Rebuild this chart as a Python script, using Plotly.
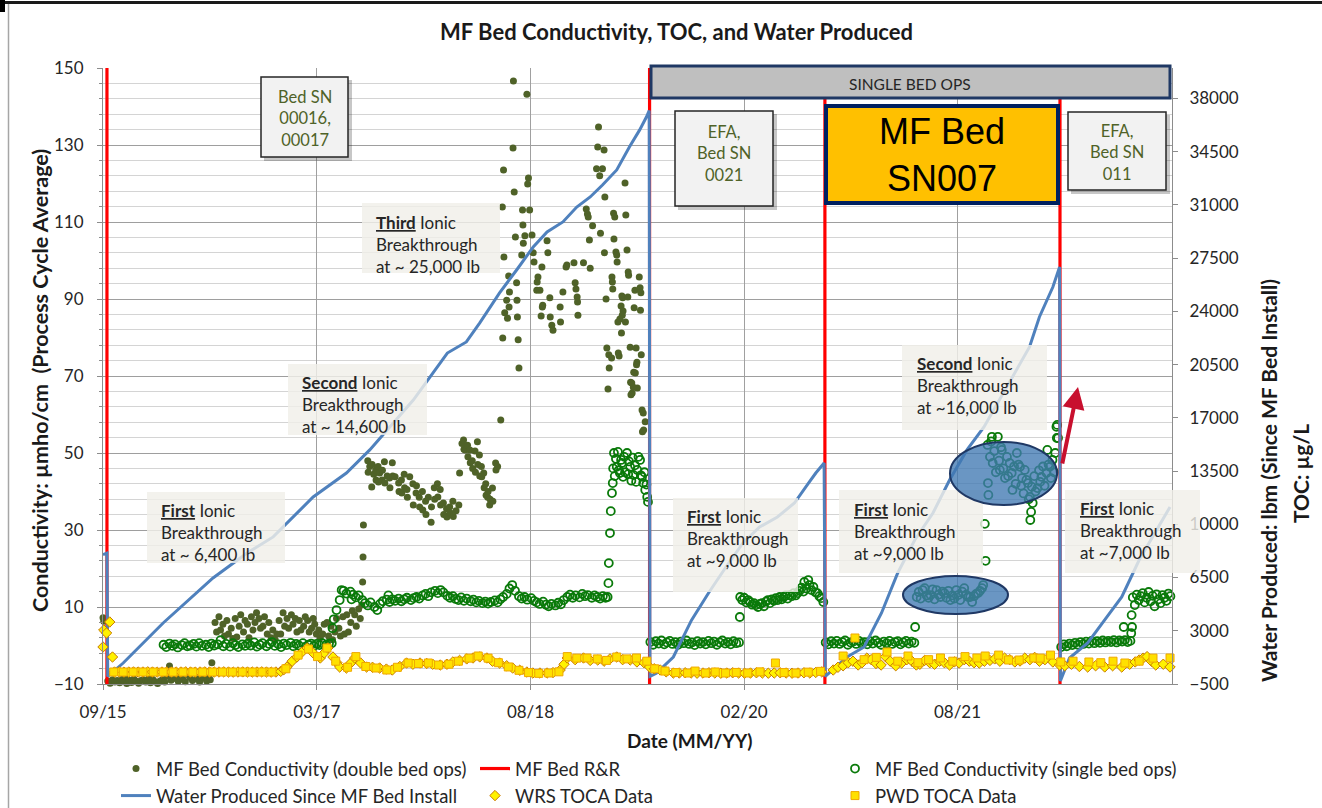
import plotly.graph_objects as go

FONT = "Lato"

# ---------------- axes / ticks ----------------
x_range = ["2015-09-15", "2023-02-06"]
x_tick_dates = ["2015-09-15", "2017-03-08", "2018-08-30", "2020-02-21", "2021-08-13"]
x_tick_labels = ["09/15", "03/17", "08/18", "02/20", "08/21"]
left_range = [-10, 150]
left_ticks = [-10, 10, 30, 50, 70, 90, 110, 130, 150]
right_range = [-500, 40000]
right_ticks = [-500, 3000, 6500, 10000, 13500, 17000, 20500, 24000, 27500, 31000, 34500, 38000]

# ---------------- MF bed R&R dates ----------------
rr_dates = ["2015-09-25", "2019-06-27", "2020-09-12", "2022-04-29"]

# ---------------- water produced (lbm, right axis) ----------------
water = [
    ("2015-09-15", 8000), ("2015-09-25", 8100), ("2015-09-27", 0), ("2015-11-05", 880),
    ("2016-02-14", 3510), ("2016-06-19", 6470), ("2016-09-13", 8110), ("2016-11-18", 9170),
    ("2017-02-27", 11800), ("2017-05-22", 13370), ("2017-07-20", 14890), ("2017-11-07", 18170),
    ("2018-02-01", 21260), ("2018-03-21", 21990), ("2018-04-24", 23240), ("2018-06-13", 25210),
    ("2018-07-26", 26720), ("2018-09-06", 28230), ("2018-10-11", 29220), ("2018-11-20", 29880),
    ("2018-12-25", 30860), ("2019-01-28", 31520), ("2019-02-28", 32310), ("2019-04-05", 33300),
    ("2019-05-07", 34810), ("2019-06-02", 35930), ("2019-06-19", 36780), ("2019-06-26", 37200),
    ("2019-06-28", 0), ("2019-07-14", 200), ("2019-08-26", 1275), ("2019-10-11", 3700),
    ("2019-11-23", 5480), ("2020-01-06", 7190), ("2020-02-18", 8770), ("2020-03-31", 9820),
    ("2020-05-15", 10480), ("2020-06-27", 11400), ("2020-08-02", 12720), ("2020-08-20", 13370),
    ("2020-09-10", 14030),
    ("2020-09-13", 0), ("2020-11-07", 1275), ("2020-12-20", 1930), ("2021-02-02", 4170),
    ("2021-03-15", 6800), ("2021-04-27", 8970), ("2021-06-12", 10740), ("2021-07-24", 12910),
    ("2021-09-06", 14890), ("2021-10-19", 16400), ("2021-12-04", 18500), ("2022-02-11", 21660),
    ("2022-03-08", 23630), ("2022-04-11", 25600), ("2022-04-28", 26920),
    ("2022-04-30", -300), ("2022-05-23", 1210), ("2022-07-08", 2200), ("2022-08-20", 3710),
    ("2022-10-02", 5220), ("2022-11-15", 7650), ("2022-12-29", 9630), ("2023-02-01", 11140),
]

# ---------------- conductivity, double bed ops (left axis) ----------------
cond_double = [
    ("2015-09-15", 7.2), ("2015-09-17", 6.3),
    ("2015-09-27", -9.2), ("2015-10-03", -9.8), ("2015-10-09", -8.9), ("2015-10-15", -9.5),
    ("2015-10-21", -9.1), ("2015-10-27", -9.7), ("2015-11-02", -8.8), ("2015-11-08", -9.4),
    ("2015-11-10", -7.8), ("2015-11-14", -9.9), ("2015-11-20", -9.0), ("2015-11-26", -9.6),
    ("2015-12-02", -8.7), ("2015-12-08", -9.3), ("2015-12-14", -9.8), ("2015-12-20", -9.1),
    ("2015-12-26", -8.9), ("2016-01-01", -9.5), ("2016-01-07", -9.0), ("2016-01-10", -8.2),
    ("2016-01-13", -9.7), ("2016-01-19", -8.8), ("2016-01-25", -9.4), ("2016-01-31", -9.9),
    ("2016-02-06", -9.2), ("2016-02-12", -8.9), ("2016-02-18", -9.5),
    ("2016-02-24", -8.0), ("2016-03-01", -5.3), ("2016-03-05", -9.0), ("2016-03-11", -7.2),
    ("2016-03-17", -8.6), ("2016-03-23", -9.3), ("2016-03-29", -7.8), ("2016-04-04", -8.8),
    ("2016-04-10", -9.4), ("2016-04-16", -7.5), ("2016-04-22", -8.3), ("2016-04-28", -9.1),
    ("2016-05-04", -7.0), ("2016-05-10", -8.7), ("2016-05-16", -9.5), ("2016-05-22", -7.9),
    ("2016-05-28", -8.5), ("2016-06-03", -9.2), ("2016-06-09", -7.6), ("2016-06-12", -8.9),
    ("2016-06-16", -4.5),
    ("2016-06-24", 6.0), ("2016-06-28", 3.5), ("2016-07-04", 7.5), ("2016-07-08", 4.0),
    ("2016-07-14", 5.5), ("2016-07-18", 2.5), ("2016-07-24", 6.5), ("2016-07-28", 3.0),
    ("2016-08-04", 4.5), ("2016-08-08", 1.8), ("2016-08-14", 7.0), ("2016-08-18", 2.2),
    ("2016-08-24", 5.0), ("2016-08-28", 8.0), ("2016-09-04", 3.5), ("2016-09-08", 6.5),
    ("2016-09-14", 5.5), ("2016-09-18", 2.0), ("2016-09-24", 7.5), ("2016-09-28", 4.0),
    ("2016-10-03", 6.0), ("2016-10-07", 8.5), ("2016-10-13", 7.0), ("2016-10-17", 4.5),
    ("2016-10-23", 5.0), ("2016-10-27", 7.5), ("2016-11-03", 3.0), ("2016-11-07", 6.0),
    ("2016-11-13", 2.0), ("2016-11-17", 4.0), ("2016-11-23", 1.5), ("2016-11-27", 3.0),
    ("2016-12-03", 6.5), ("2016-12-07", 3.0), ("2016-12-13", 8.5), ("2016-12-17", 5.0),
    ("2016-12-23", 7.0), ("2016-12-27", 4.5), ("2017-01-03", 8.0), ("2017-01-07", 5.5),
    ("2017-01-13", 7.0), ("2017-01-17", 3.5), ("2017-01-23", 6.5), ("2017-01-27", 4.0),
    ("2017-02-03", 5.0), ("2017-02-07", 7.5), ("2017-02-13", 6.5), ("2017-02-17", 3.5),
    ("2017-02-23", 4.5), ("2017-02-27", 7.0), ("2017-03-03", 5.5), ("2017-03-07", 3.0),
    ("2017-03-13", 4.0), ("2017-03-17", 2.0), ("2017-03-23", 3.0), ("2017-03-27", 5.5),
    ("2017-04-03", 6.0), ("2017-04-07", 2.5), ("2017-04-13", 5.0), ("2017-04-17", 1.5),
    ("2017-04-23", 3.5), ("2017-04-27", 7.0), ("2017-05-03", 4.5), ("2017-05-07", 2.5),
    ("2017-05-13", 7.5), ("2017-05-17", 3.0), ("2017-05-23", 8.0), ("2017-05-27", 3.5),
    ("2017-06-02", 6.0), ("2017-06-06", 9.0), ("2017-06-12", 8.0), ("2017-06-16", 5.0),
    ("2017-06-22", 9.5), ("2017-06-26", 7.0), ("2017-06-30", 10.5),
    ("2017-07-02", 16.5), ("2017-07-03", 23.0), ("2017-07-04", 31.3),
    ("2017-07-15", 48.0), ("2017-07-16", 45.0), ("2017-07-20", 46.5), ("2017-07-25", 41.2),
    ("2017-07-26", 47.0), ("2017-07-30", 44.5), ("2017-08-04", 45.6), ("2017-08-05", 43.0),
    ("2017-08-10", 46.5), ("2017-08-11", 42.5), ("2017-08-14", 44.8), ("2017-08-20", 43.0),
    ("2017-08-21", 45.5), ("2017-08-26", 47.7), ("2017-08-27", 42.2), ("2017-09-02", 44.0),
    ("2017-09-08", 43.5), ("2017-09-09", 41.0), ("2017-09-15", 47.5), ("2017-09-16", 44.0),
    ("2017-09-22", 43.8), ("2017-10-01", 42.2), ("2017-10-02", 40.0), ("2017-10-08", 43.0),
    ("2017-10-09", 39.6), ("2017-10-15", 44.5), ("2017-10-16", 41.0), ("2017-10-22", 40.5),
    ("2017-10-23", 38.5), ("2017-10-29", 43.8), ("2017-11-06", 42.0), ("2017-11-07", 36.5),
    ("2017-11-14", 39.6), ("2017-11-15", 41.5), ("2017-11-22", 38.5), ("2017-11-23", 36.0),
    ("2017-11-30", 40.0), ("2017-12-01", 35.2), ("2017-12-08", 37.5), ("2017-12-09", 34.0),
    ("2017-12-15", 38.5), ("2017-12-22", 32.0), ("2017-12-23", 36.0), ("2017-12-30", 41.0),
    ("2017-12-31", 38.0), ("2018-01-07", 42.0), ("2018-01-08", 38.6), ("2018-01-14", 40.5),
    ("2018-01-15", 36.5), ("2018-01-22", 37.0), ("2018-01-23", 34.0), ("2018-01-30", 35.5),
    ("2018-01-31", 33.4), ("2018-02-07", 36.0), ("2018-02-08", 34.5), ("2018-02-15", 37.5),
    ("2018-02-16", 33.5), ("2018-02-23", 35.0), ("2018-03-02", 36.5), ("2018-03-04", 44.8),
    ("2018-03-10", 52.5), ("2018-03-14", 53.4), ("2018-03-15", 51.0), ("2018-03-18", 50.8),
    ("2018-03-24", 52.0), ("2018-03-25", 49.0), ("2018-03-30", 50.8), ("2018-03-31", 47.5),
    ("2018-04-05", 48.0), ("2018-04-06", 46.0), ("2018-04-12", 50.5), ("2018-04-13", 45.0),
    ("2018-04-18", 52.9), ("2018-04-19", 47.0), ("2018-04-23", 49.5), ("2018-04-24", 44.0),
    ("2018-04-28", 46.5), ("2018-04-29", 43.8), ("2018-05-04", 44.8), ("2018-05-05", 41.0),
    ("2018-05-09", 42.0), ("2018-05-10", 39.0), ("2018-05-14", 38.5), ("2018-05-15", 40.0),
    ("2018-05-19", 36.5), ("2018-05-20", 38.0), ("2018-05-26", 40.9), ("2018-05-27", 37.5),
    ("2018-06-03", 47.4), ("2018-06-04", 45.6), ("2018-06-08", 46.5), ("2018-06-16", 58.6),
    ("2018-07-18", 146.6), ("2018-08-21", 143.2), ("2018-07-17", 129.2), ("2018-06-23", 123.5),
    ("2018-08-25", 121.4), ("2018-08-23", 119.9), ("2018-07-20", 117.8), ("2018-06-20", 113.9),
    ("2018-08-10", 113.1), ("2018-08-28", 113.1), ("2018-08-11", 109.2), ("2018-07-23", 106.1),
    ("2018-08-16", 106.4), ("2018-09-03", 106.6), ("2018-08-12", 104.5), ("2018-10-11", 105.1),
    ("2018-06-24", 100.9), ("2018-08-08", 101.4), ("2018-09-06", 102.0), ("2018-10-13", 102.0),
    ("2018-09-08", 99.6), ("2018-09-28", 98.3), ("2018-11-28", 98.3), ("2018-11-30", 98.8),
    ("2018-12-18", 99.4), ("2019-01-11", 99.4), ("2019-01-28", 98.0), ("2018-07-06", 96.0),
    ("2018-09-18", 95.7), ("2018-09-16", 94.4), ("2018-09-15", 92.3), ("2018-09-23", 92.3),
    ("2018-07-26", 94.2), ("2018-12-21", 94.2), ("2018-12-23", 92.6), ("2018-12-26", 90.5),
    ("2018-12-27", 89.2), ("2018-12-28", 85.8), ("2018-11-20", 91.8), ("2018-10-18", 90.3),
    ("2018-07-08", 91.8), ("2018-07-01", 89.7), ("2018-07-07", 87.9), ("2018-07-27", 89.7),
    ("2018-06-26", 86.4), ("2018-07-03", 85.0), ("2018-07-28", 85.3), ("2018-09-29", 87.9),
    ("2018-09-30", 88.4), ("2018-09-26", 85.6), ("2018-10-19", 85.3), ("2018-11-13", 87.9),
    ("2018-11-14", 84.0), ("2018-10-23", 83.2), ("2018-10-26", 81.9), ("2018-06-21", 79.9),
    ("2018-07-30", 79.4), ("2018-08-01", 72.1),
    ("2019-02-18", 134.7), ("2019-02-16", 129.5), ("2019-03-04", 128.7), ("2019-02-13", 123.8),
    ("2019-02-28", 123.8), ("2019-02-21", 122.0), ("2019-04-26", 120.1), ("2019-03-06", 116.5),
    ("2019-01-18", 113.4), ("2019-01-21", 112.1), ("2019-01-23", 111.3), ("2019-03-28", 112.3),
    ("2019-03-31", 111.3), ("2019-04-28", 111.8), ("2019-02-03", 109.0), ("2019-02-23", 107.1),
    ("2019-01-26", 105.3), ("2019-03-29", 105.6), ("2019-03-05", 102.0), ("2019-04-03", 102.2),
    ("2019-04-05", 101.4), ("2019-04-06", 99.6), ("2019-05-01", 102.7), ("2019-05-04", 97.0),
    ("2019-05-05", 96.2), ("2019-03-24", 95.7), ("2019-03-25", 94.4), ("2019-03-26", 92.6),
    ("2019-06-01", 95.7), ("2019-03-09", 90.0), ("2019-04-18", 90.8), ("2019-04-20", 90.3),
    ("2019-05-03", 90.5), ("2019-05-21", 92.3), ("2019-06-03", 92.9), ("2019-06-05", 91.6),
    ("2019-04-16", 88.2), ("2019-04-21", 86.9), ("2019-04-13", 84.8), ("2019-04-19", 85.8),
    ("2019-05-19", 87.7), ("2019-06-04", 87.1), ("2019-04-08", 84.0), ("2019-04-27", 84.0),
    ("2019-04-17", 81.2), ("2019-03-11", 77.3), ("2019-03-16", 75.5), ("2019-03-23", 74.7),
    ("2019-04-09", 76.0), ("2019-04-11", 75.2), ("2019-05-09", 77.5), ("2019-05-24", 77.3),
    ("2019-06-06", 75.5), ("2019-05-26", 73.6), ("2019-05-25", 72.9), ("2019-03-17", 72.1),
    ("2019-05-18", 71.0), ("2019-05-22", 70.8), ("2019-05-10", 68.4), ("2019-05-13", 68.2),
    ("2019-05-27", 66.9), ("2019-05-14", 65.6), ("2019-03-14", 66.6), ("2019-05-17", 67.1),
    ("2019-05-11", 65.1), ("2019-06-08", 61.2), ("2019-06-11", 60.4), ("2019-06-16", 58.1),
    ("2019-06-09", 55.5), ("2019-06-12", 56.0),
]

# ---------------- conductivity, single bed ops (left axis) ----------------
cond_single = [
    ("2016-02-15", 0.2), ("2016-02-22", -0.4), ("2016-03-01", 0.5), ("2016-03-08", -0.1),
    ("2016-03-15", 0.3), ("2016-03-22", -0.5), ("2016-04-01", 0.1), ("2016-04-08", 0.6),
    ("2016-04-15", -0.2), ("2016-04-22", 0.0), ("2016-05-01", 0.4), ("2016-05-08", -0.3),
    ("2016-05-15", 0.6), ("2016-05-22", -0.1), ("2016-06-01", 0.2), ("2016-06-08", -0.4),
    ("2016-06-15", 0.5), ("2016-06-22", 0.0), ("2016-07-01", 0.3), ("2016-07-08", 1.4),
    ("2016-07-15", -0.2), ("2016-07-22", 0.4), ("2016-08-01", -0.3), ("2016-08-08", 0.6),
    ("2016-08-15", 0.1), ("2016-08-22", -0.4), ("2016-09-01", 0.3), ("2016-09-08", -0.1),
    ("2016-09-15", 0.5), ("2016-09-22", 0.0), ("2016-10-01", 0.8), ("2016-10-08", -0.3),
    ("2016-10-15", 0.2), ("2016-10-22", 0.6), ("2016-11-01", -0.2), ("2016-11-08", 0.4),
    ("2016-11-15", 0.9), ("2016-11-22", -0.1), ("2016-12-01", 0.3), ("2016-12-08", -0.4),
    ("2016-12-15", 0.5), ("2016-12-22", 0.1), ("2017-01-01", 0.7), ("2017-01-08", -0.2),
    ("2017-01-15", 0.4), ("2017-01-22", 0.0), ("2017-02-01", 0.6), ("2017-02-08", -0.3),
    ("2017-02-15", 0.2), ("2017-02-22", 0.5), ("2017-03-01", -0.1), ("2017-03-08", 0.4),
    ("2017-03-15", 0.1), ("2017-03-22", 0.6), ("2017-04-01", 0.2), ("2017-04-08", 0.5),
    ("2017-04-15", 0.6), ("2017-04-17", 4.5), ("2017-04-20", 6.8), ("2017-04-27", 9.2),
    ("2017-05-05", 11.8), ("2017-05-10", 14.4),
    ("2017-05-15", 14.2), ("2017-05-22", 13.5), ("2017-06-01", 14.0), ("2017-06-04", 12.0),
    ("2017-06-08", 13.2), ("2017-06-15", 12.5), ("2017-06-22", 13.0), ("2017-07-01", 11.8),
    ("2017-07-08", 11.0), ("2017-07-15", 10.4), ("2017-07-22", 11.2), ("2017-08-01", 10.0),
    ("2017-08-08", 9.2), ("2017-08-15", 10.8), ("2017-08-22", 11.5), ("2017-09-01", 11.9),
    ("2017-09-05", 13.0), ("2017-09-08", 11.3), ("2017-09-15", 12.0), ("2017-09-22", 11.6),
    ("2017-10-01", 12.2), ("2017-10-08", 11.5), ("2017-10-15", 12.0), ("2017-10-22", 12.4),
    ("2017-11-01", 11.8), ("2017-11-08", 12.3), ("2017-11-15", 12.6), ("2017-11-22", 12.2),
    ("2017-12-01", 13.0), ("2017-12-08", 13.4), ("2017-12-15", 12.8), ("2017-12-22", 13.8),
    ("2018-01-01", 14.2), ("2018-01-08", 13.6), ("2018-01-15", 14.4), ("2018-01-22", 13.8),
    ("2018-02-01", 12.9), ("2018-02-08", 12.4), ("2018-02-15", 12.8), ("2018-02-22", 12.1),
    ("2018-03-01", 11.8), ("2018-03-08", 12.5), ("2018-03-15", 11.6), ("2018-03-22", 12.2),
    ("2018-04-01", 11.5), ("2018-04-08", 11.9), ("2018-04-15", 11.2), ("2018-04-22", 11.6),
    ("2018-05-01", 11.0), ("2018-05-08", 11.4), ("2018-05-15", 10.9), ("2018-05-22", 11.3),
    ("2018-06-01", 11.7), ("2018-06-08", 11.2), ("2018-06-15", 12.0), ("2018-06-22", 12.6),
    ("2018-07-01", 13.4), ("2018-07-08", 14.8), ("2018-07-15", 15.7), ("2018-07-22", 14.2),
    ("2018-08-01", 12.8), ("2018-08-08", 12.2), ("2018-08-15", 12.6), ("2018-08-22", 11.9),
    ("2018-09-01", 12.3), ("2018-09-08", 11.6), ("2018-09-15", 11.2), ("2018-09-22", 10.8),
    ("2018-10-01", 11.4), ("2018-10-08", 10.6), ("2018-10-15", 10.2), ("2018-10-22", 10.8),
    ("2018-11-01", 10.4), ("2018-11-08", 11.1), ("2018-11-15", 10.7), ("2018-11-22", 11.8),
    ("2018-12-01", 12.6), ("2018-12-08", 13.2), ("2018-12-15", 12.4), ("2018-12-22", 13.0),
    ("2019-01-01", 12.5), ("2019-01-08", 13.4), ("2019-01-15", 12.8), ("2019-01-22", 13.1),
    ("2019-02-01", 12.4), ("2019-02-08", 13.0), ("2019-02-15", 12.6), ("2019-02-22", 12.2),
    ("2019-03-01", 12.8), ("2019-03-08", 12.4),
    ("2019-03-13", 12.6), ("2019-03-15", 16.2), ("2019-03-16", 21.4), ("2019-03-19", 29.2),
    ("2019-03-21", 34.9), ("2019-03-24", 39.6), ("2019-03-26", 42.2),
    ("2019-03-27", 46.0), ("2019-03-29", 50.0), ("2019-03-31", 44.0), ("2019-04-03", 48.5),
    ("2019-04-05", 46.4), ("2019-04-08", 50.3), ("2019-04-10", 45.5), ("2019-04-13", 44.8),
    ("2019-04-16", 48.2), ("2019-04-18", 47.4), ("2019-04-21", 43.8), ("2019-04-24", 49.0),
    ("2019-04-26", 45.0), ("2019-05-01", 50.0), ("2019-05-04", 44.5), ("2019-05-06", 47.8),
    ("2019-05-09", 46.4), ("2019-05-12", 42.8), ("2019-05-15", 48.8), ("2019-05-17", 44.3),
    ("2019-05-21", 46.8), ("2019-05-24", 42.5), ("2019-05-27", 45.6), ("2019-05-30", 49.0),
    ("2019-06-03", 48.2), ("2019-06-05", 44.2), ("2019-06-08", 43.8), ("2019-06-11", 42.2),
    ("2019-06-14", 45.0), ("2019-06-16", 40.4), ("2019-06-19", 41.8), ("2019-06-21", 38.6),
    ("2019-06-23", 37.3),
    ("2019-06-29", 0.9), ("2019-07-06", 0.2), ("2019-07-13", 1.1), ("2019-07-20", 0.5),
    ("2019-07-27", 1.3), ("2019-08-03", 0.3), ("2019-08-10", 0.8), ("2019-08-17", 1.2),
    ("2019-08-24", 0.4), ("2019-08-31", 0.9), ("2019-09-07", 0.2), ("2019-09-14", 1.0),
    ("2019-09-21", 0.6), ("2019-09-28", 1.3), ("2019-10-05", 0.4), ("2019-10-12", 0.8),
    ("2019-10-19", 0.1), ("2019-10-26", 1.1), ("2019-11-02", 0.5), ("2019-11-09", 0.9),
    ("2019-11-16", 0.3), ("2019-11-23", 1.2), ("2019-11-30", 0.6), ("2019-12-07", 1.0),
    ("2019-12-14", 0.2), ("2019-12-21", 0.8), ("2019-12-28", 1.3), ("2020-01-04", 0.5),
    ("2020-01-11", 0.9), ("2020-01-18", 0.3), ("2020-01-25", 1.1), ("2020-02-01", 0.6),
    ("2020-02-08", 0.8), ("2020-02-10", 7.4),
    ("2020-02-11", 12.6), ("2020-02-16", 11.8), ("2020-02-21", 12.4), ("2020-02-26", 11.2),
    ("2020-03-02", 11.8), ("2020-03-07", 11.3), ("2020-03-12", 10.6), ("2020-03-17", 11.0),
    ("2020-03-22", 10.5), ("2020-03-27", 10.0), ("2020-04-01", 10.8), ("2020-04-06", 11.0),
    ("2020-04-11", 10.2), ("2020-04-16", 11.4), ("2020-04-21", 11.8), ("2020-04-26", 11.0),
    ("2020-05-01", 12.0), ("2020-05-06", 11.6), ("2020-05-11", 12.3), ("2020-05-16", 11.8),
    ("2020-05-21", 12.6), ("2020-05-26", 12.0), ("2020-05-31", 12.6), ("2020-06-05", 13.0),
    ("2020-06-10", 12.2), ("2020-06-15", 13.1), ("2020-06-20", 12.8), ("2020-06-25", 13.6),
    ("2020-06-30", 13.0), ("2020-07-05", 13.6), ("2020-07-10", 14.2), ("2020-07-15", 15.0),
    ("2020-07-20", 14.0), ("2020-07-22", 16.5), ("2020-07-27", 14.8), ("2020-08-01", 17.0),
    ("2020-08-04", 15.7), ("2020-08-09", 14.4), ("2020-08-14", 15.2), ("2020-08-19", 13.8),
    ("2020-08-24", 13.6), ("2020-08-29", 12.8), ("2020-09-03", 12.3), ("2020-09-08", 11.3),
    ("2020-09-14", 0.8), ("2020-09-21", 0.3), ("2020-09-28", 1.1), ("2020-10-05", 0.5),
    ("2020-10-12", 1.2), ("2020-10-19", 0.4), ("2020-10-26", 0.9), ("2020-11-02", 1.3),
    ("2020-11-09", 0.2), ("2020-11-16", 0.8), ("2020-11-23", 1.0), ("2020-11-30", 0.4),
    ("2020-12-07", 1.2), ("2020-12-14", 0.6), ("2020-12-21", 0.9), ("2020-12-28", 0.3),
    ("2021-01-04", 1.1), ("2021-01-11", 0.5), ("2021-01-18", 1.3), ("2021-01-25", 0.7),
    ("2021-02-01", 0.2), ("2021-02-08", 1.0), ("2021-02-15", 0.6), ("2021-02-22", 1.2),
    ("2021-03-01", 0.4), ("2021-03-08", 0.9), ("2021-03-15", 1.1), ("2021-03-22", 0.3),
    ("2021-03-29", 0.8), ("2021-04-05", 1.2), ("2021-04-12", 0.5), ("2021-04-19", 1.0),
    ("2021-04-26", 0.7), ("2021-04-28", 4.8),
    ("2021-05-02", 12.6), ("2021-05-07", 13.9), ("2021-05-12", 12.2), ("2021-05-17", 14.4),
    ("2021-05-22", 14.9), ("2021-05-27", 13.0), ("2021-06-01", 12.4), ("2021-06-06", 13.1),
    ("2021-06-11", 14.6), ("2021-06-16", 12.0), ("2021-06-21", 14.4), ("2021-06-26", 13.2),
    ("2021-07-01", 12.6), ("2021-07-06", 14.0), ("2021-07-11", 13.6), ("2021-07-16", 12.4),
    ("2021-07-21", 14.2), ("2021-07-26", 11.8), ("2021-07-31", 13.0), ("2021-08-05", 12.2),
    ("2021-08-10", 14.4), ("2021-08-15", 13.1), ("2021-08-20", 11.8), ("2021-08-25", 14.0),
    ("2021-08-30", 14.9), ("2021-09-04", 13.2), ("2021-09-09", 12.6), ("2021-09-14", 12.6),
    ("2021-09-19", 11.3), ("2021-09-24", 12.8), ("2021-09-29", 13.4), ("2021-10-04", 13.6),
    ("2021-10-09", 14.2), ("2021-10-14", 14.9), ("2021-10-17", 15.7),
    ("2021-10-21", 31.6), ("2021-10-23", 22.0),
    ("2021-10-28", 52.1), ("2021-10-29", 42.2), ("2021-10-30", 39.1), ("2021-11-03", 49.0),
    ("2021-11-06", 53.0), ("2021-11-08", 54.2), ("2021-11-10", 47.4), ("2021-11-14", 50.5),
    ("2021-11-18", 45.0), ("2021-11-23", 54.2), ("2021-11-26", 48.0), ("2021-11-28", 45.6),
    ("2021-12-01", 51.5), ("2021-12-03", 50.8), ("2021-12-07", 46.0), ("2021-12-11", 43.5),
    ("2021-12-16", 49.0), ("2021-12-19", 44.0), ("2021-12-23", 47.4), ("2021-12-28", 44.8),
    ("2021-12-30", 40.4), ("2022-01-03", 46.5), ("2022-01-07", 42.0), ("2022-01-10", 50.0),
    ("2022-01-14", 47.0), ("2022-01-18", 46.4), ("2022-01-21", 41.5), ("2022-01-23", 43.5),
    ("2022-01-27", 39.5), ("2022-01-30", 45.6), ("2022-02-03", 43.0), ("2022-02-07", 42.2),
    ("2022-02-09", 38.0), ("2022-02-12", 38.6), ("2022-02-13", 32.6), ("2022-02-15", 34.7),
    ("2022-02-17", 41.2), ("2022-02-19", 37.0), ("2022-02-23", 44.0), ("2022-02-26", 40.0),
    ("2022-03-03", 40.9), ("2022-03-07", 45.5), ("2022-03-10", 42.5), ("2022-03-13", 43.8),
    ("2022-03-17", 46.5), ("2022-03-21", 41.5), ("2022-03-26", 44.8), ("2022-03-28", 50.8),
    ("2022-03-31", 47.0), ("2022-04-03", 46.4), ("2022-04-06", 43.5), ("2022-04-10", 48.2),
    ("2022-04-14", 45.0), ("2022-04-17", 50.0), ("2022-04-20", 56.8), ("2022-04-21", 53.9),
    ("2022-04-22", 57.3), ("2022-04-24", 53.9),
    ("2022-05-02", -0.4), ("2022-05-09", 0.3), ("2022-05-16", -0.2), ("2022-05-23", 0.5),
    ("2022-05-30", 0.1), ("2022-06-06", 0.7), ("2022-06-13", 0.2), ("2022-06-20", 0.9),
    ("2022-06-27", 0.4), ("2022-07-04", 1.0), ("2022-07-11", 0.5), ("2022-07-18", 1.2),
    ("2022-07-25", 0.6), ("2022-08-01", 1.1), ("2022-08-08", 0.7), ("2022-08-15", 1.3),
    ("2022-08-22", 0.8), ("2022-08-29", 1.2), ("2022-09-05", 0.9), ("2022-09-12", 1.4),
    ("2022-09-19", 0.8), ("2022-09-26", 1.3), ("2022-10-03", 1.0), ("2022-10-07", 4.8),
    ("2022-10-10", 1.4), ("2022-10-17", 0.9), ("2022-10-24", 1.2), ("2022-10-26", 3.2),
    ("2022-10-27", 7.9), ("2022-10-28", 4.8),
    ("2022-10-30", 12.5), ("2022-11-04", 10.5), ("2022-11-09", 13.2), ("2022-11-14", 11.8),
    ("2022-11-19", 12.8), ("2022-11-24", 13.6), ("2022-11-29", 11.2), ("2022-12-04", 12.4),
    ("2022-12-09", 13.9), ("2022-12-14", 11.5), ("2022-12-19", 12.9), ("2022-12-24", 10.2),
    ("2022-12-29", 13.3), ("2023-01-03", 12.0), ("2023-01-08", 11.0), ("2023-01-13", 13.1),
    ("2023-01-18", 12.4), ("2023-01-23", 11.6), ("2023-01-28", 13.5), ("2023-02-02", 12.8),
]

# ---------------- TOC data (ug/L, right axis) ----------------
wrs_toca = [
    ("2015-09-15", 1933), ("2015-09-17", 3050), ("2015-09-24", 2853), ("2015-10-02", 3577),
    ("2015-10-09", 1275),
    ("2015-10-14", 289), ("2015-10-26", 300), ("2015-11-07", 280), ("2015-11-19", 289),
    ("2015-12-01", 295), ("2015-12-13", 285), ("2015-12-25", 289), ("2016-01-06", 300),
    ("2016-01-18", 289), ("2016-01-30", 280), ("2016-02-11", 289), ("2016-02-23", 295),
    ("2016-03-06", 289), ("2016-03-18", 285), ("2016-03-30", 289), ("2016-04-11", 300),
    ("2016-04-23", 289), ("2016-05-05", 280), ("2016-05-17", 289), ("2016-05-29", 295),
    ("2016-06-10", 289), ("2016-06-22", 285), ("2016-07-04", 289), ("2016-07-16", 300),
    ("2016-07-28", 289), ("2016-08-09", 280), ("2016-08-21", 289), ("2016-09-02", 295),
    ("2016-09-14", 289), ("2016-09-26", 285), ("2016-10-08", 289), ("2016-10-20", 300),
    ("2016-11-01", 289), ("2016-11-13", 280), ("2016-11-25", 289), ("2016-12-07", 330),
    ("2016-12-15", 450),
    ("2016-12-23", 618), ("2017-01-05", 1000), ("2017-01-17", 1275), ("2017-01-30", 1600),
    ("2017-02-12", 1867), ("2017-02-27", 1538), ("2017-03-17", 1210), ("2017-03-27", 1540),
    ("2017-04-05", 1867), ("2017-04-18", 1275), ("2017-04-28", 900), ("2017-05-05", 618),
    ("2017-05-22", 552), ("2017-06-02", 880), ("2017-06-12", 1210), ("2017-06-27", 880),
    ("2017-07-12", 618), ("2017-07-27", 600), ("2017-08-14", 552), ("2017-08-31", 480),
    ("2017-09-15", 420), ("2017-10-04", 650), ("2017-10-21", 881), ("2017-11-06", 800),
    ("2017-11-24", 881), ("2017-12-11", 850), ("2017-12-26", 800), ("2018-01-14", 749),
    ("2018-01-31", 800), ("2018-02-15", 950), ("2018-03-04", 1050), ("2018-03-22", 1150),
    ("2018-04-07", 1210), ("2018-04-24", 1280), ("2018-05-12", 1210), ("2018-05-26", 1000),
    ("2018-06-13", 881), ("2018-07-01", 700), ("2018-07-16", 552), ("2018-08-03", 400),
    ("2018-08-21", 289), ("2018-09-05", 223), ("2018-09-23", 223), ("2018-10-11", 223),
    ("2018-10-26", 250), ("2018-11-13", 420), ("2018-11-23", 800), ("2018-12-01", 1210),
    ("2018-12-21", 1100), ("2019-01-11", 1210), ("2019-01-28", 1050), ("2019-02-16", 1078),
    ("2019-03-04", 1000), ("2019-03-19", 1150), ("2019-04-05", 1275), ("2019-04-20", 1100),
    ("2019-05-09", 1078), ("2019-05-26", 950), ("2019-06-13", 900), ("2019-06-27", 618),
    ("2019-07-09", 500), ("2019-07-24", 420), ("2019-08-08", 300), ("2019-08-26", 223),
    ("2019-09-10", 223), ("2019-09-25", 240), ("2019-10-10", 223), ("2019-10-25", 210),
    ("2019-11-09", 223), ("2019-11-24", 240), ("2019-12-09", 223), ("2019-12-24", 210),
    ("2020-01-08", 223), ("2020-01-23", 240), ("2020-02-07", 223), ("2020-02-22", 210),
    ("2020-03-08", 223), ("2020-03-23", 240), ("2020-04-07", 223), ("2020-04-22", 210),
    ("2020-05-07", 223), ("2020-05-22", 240), ("2020-06-06", 223), ("2020-06-21", 210),
    ("2020-07-06", 223), ("2020-07-21", 240), ("2020-08-05", 223), ("2020-08-20", 260),
    ("2020-09-04", 300),
    ("2020-10-03", 420), ("2020-10-15", 600), ("2020-10-28", 700), ("2020-11-10", 900),
    ("2020-11-22", 1000), ("2020-12-05", 750), ("2020-12-15", 900), ("2020-12-27", 1200),
    ("2021-01-07", 1100), ("2021-01-19", 850), ("2021-02-01", 749), ("2021-02-12", 1300),
    ("2021-02-24", 1000), ("2021-03-10", 700), ("2021-03-25", 881), ("2021-04-07", 1100),
    ("2021-04-20", 1000), ("2021-05-01", 750), ("2021-05-10", 800), ("2021-05-22", 1050),
    ("2021-06-04", 900), ("2021-06-16", 800), ("2021-06-29", 1000), ("2021-07-11", 900),
    ("2021-07-24", 749), ("2021-08-05", 950), ("2021-08-17", 881), ("2021-08-30", 1100),
    ("2021-09-12", 1000), ("2021-09-24", 900), ("2021-10-07", 881), ("2021-10-20", 1000),
    ("2021-11-03", 1050), ("2021-11-15", 1150), ("2021-11-28", 1000), ("2021-12-10", 1200),
    ("2021-12-23", 1100), ("2022-01-05", 950), ("2022-01-18", 1010), ("2022-01-30", 1200),
    ("2022-02-12", 1100), ("2022-02-24", 1250), ("2022-03-08", 1000), ("2022-03-22", 1100),
    ("2022-04-11", 947), ("2022-04-28", 749), ("2022-05-11", 700), ("2022-05-28", 800),
    ("2022-06-17", 650), ("2022-07-08", 618), ("2022-07-28", 700), ("2022-08-20", 620),
    ("2022-09-09", 700), ("2022-10-02", 618), ("2022-10-22", 800), ("2022-11-05", 950),
    ("2022-11-15", 1078), ("2022-11-25", 1200), ("2022-12-05", 1300), ("2022-12-16", 1000),
    ("2022-12-27", 749), ("2023-01-15", 800), ("2023-02-01", 618),
]

pwd_toca = [
    ("2015-10-12", 289), ("2015-11-05", 289), ("2015-11-30", 289), ("2015-12-25", 289),
    ("2016-01-20", 289), ("2016-02-14", 289), ("2016-03-10", 289), ("2016-04-04", 289),
    ("2016-04-29", 289), ("2016-05-24", 289), ("2016-06-18", 289), ("2016-07-13", 289),
    ("2016-08-07", 289), ("2016-09-01", 289), ("2016-09-26", 289), ("2016-10-21", 289),
    ("2016-11-15", 289),
    ("2016-12-20", 500), ("2017-01-20", 1400), ("2017-02-15", 1800), ("2017-03-10", 1300),
    ("2017-04-03", 1867), ("2017-04-25", 1000), ("2017-05-25", 600), ("2017-06-15", 1300),
    ("2017-07-10", 650), ("2017-08-05", 550), ("2017-09-01", 420), ("2017-09-28", 600),
    ("2017-10-25", 880), ("2017-11-20", 850), ("2017-12-15", 881), ("2018-01-10", 749),
    ("2018-02-05", 800), ("2018-03-01", 1000), ("2018-03-28", 1200), ("2018-04-20", 1340),
    ("2018-05-15", 1200), ("2018-06-10", 900), ("2018-07-05", 620), ("2018-08-01", 400),
    ("2018-08-25", 250), ("2018-09-20", 200), ("2018-10-15", 223), ("2018-11-10", 300),
    ("2018-12-01", 1300), ("2018-12-25", 1200), ("2019-01-20", 1210), ("2019-02-15", 1150),
    ("2019-03-10", 1050), ("2019-04-05", 1275), ("2019-05-01", 1150), ("2019-05-25", 1210),
    ("2019-06-20", 1000), ("2019-07-10", 500), ("2019-08-05", 350), ("2019-09-01", 250),
    ("2019-10-01", 223), ("2019-10-20", 350), ("2019-11-15", 223), ("2019-12-10", 290),
    ("2020-01-05", 223), ("2020-02-01", 260), ("2020-03-01", 223), ("2020-04-01", 300),
    ("2020-05-10", 881), ("2020-06-01", 250), ("2020-07-01", 223), ("2020-08-01", 280),
    ("2020-09-01", 330), ("2020-10-28", 1341), ("2020-11-27", 2525), ("2020-12-20", 1100),
    ("2021-01-20", 1250), ("2021-02-16", 1604), ("2021-03-15", 1000), ("2021-04-10", 1341),
    ("2021-05-05", 900), ("2021-06-01", 1100), ("2021-07-01", 1210), ("2021-08-01", 1000),
    ("2021-09-01", 1300), ("2021-10-01", 1210), ("2021-10-22", 1341), ("2021-11-25", 1400),
    ("2021-12-20", 1078), ("2022-01-16", 1078), ("2022-02-22", 1210), ("2022-03-10", 1200),
    ("2022-04-05", 1400), ("2022-05-01", 950), ("2022-06-01", 1000), ("2022-07-11", 947),
    ("2022-08-10", 900), ("2022-09-10", 1000), ("2022-10-10", 881), ("2022-11-15", 1000),
    ("2022-12-20", 1200), ("2023-02-01", 1210),
]


def split(pairs):
    return [p[0] for p in pairs], [p[1] for p in pairs]


# ---------------- figure ----------------
W, H = 1322, 808
L, R, T, B = 103, 150, 68, 124
PW, PH = W - L - R, H - T - B


def PX(px):
    return (px - L) / PW


def PY(py):
    return (T + PH - py) / PH


fig = go.Figure()

dx, dy = split(cond_double)
fig.add_trace(go.Scatter(
    x=dx, y=dy, mode="markers", name="MF Bed Conductivity (double bed ops)",
    marker=dict(symbol="circle", size=7, color="#4F6228"),
    legend="legend", legendgroup="g1", legendrank=1, cliponaxis=False))

sx, sy = split(cond_single)
fig.add_trace(go.Scatter(
    x=sx, y=sy, mode="markers", name="MF Bed Conductivity (single bed ops)",
    marker=dict(symbol="circle-open", size=8, color="#0A7A0A", line=dict(width=1.8)),
    legend="legend3", legendgroup="g3", legendrank=1, cliponaxis=False))

wx, wy = split(water)
fig.add_trace(go.Scatter(
    x=wx, y=wy, mode="lines", name="Water Produced Since MF Bed Install", yaxis="y2",
    line=dict(color="#4F81BD", width=3), legend="legend", legendgroup="g4", legendrank=2))

tx, ty = split(wrs_toca)
fig.add_trace(go.Scatter(
    x=tx, y=ty, mode="markers", name="WRS TOCA Data", yaxis="y2",
    marker=dict(symbol="diamond", size=8, color="#FFF200", line=dict(color="#C87800", width=1)),
    legend="legend2", legendgroup="g5", legendrank=2, cliponaxis=False))

px_, py_ = split(pwd_toca)
fig.add_trace(go.Scatter(
    x=px_, y=py_, mode="markers", name="PWD TOCA Data", yaxis="y2",
    marker=dict(symbol="square", size=8, color="#FFE000", line=dict(color="#F0A800", width=1)),
    legend="legend3", legendgroup="g6", legendrank=2, cliponaxis=False))

rx, ry = [], []
for d in rr_dates:
    rx += [d, d, None]
    ry += [left_range[0], left_range[1], None]
fig.add_trace(go.Scatter(
    x=rx, y=ry, mode="lines", name="MF Bed R&R", line=dict(color="#FF0000", width=3.2),
    legend="legend2", legendgroup="g2", legendrank=1))

shapes = []
annotations = []


def rect(x0, y0, x1, y1, fill, line_color=None, line_width=0, shadow=False):
    if shadow:
        shapes.append(dict(type="rect", xref="paper", yref="paper",
                           x0=PX(x0 + 3), x1=PX(x1 + 4), y0=PY(y1 + 4), y1=PY(y0 + 3),
                           fillcolor="rgba(0,0,0,0.22)", line=dict(width=0), layer="above"))
    shapes.append(dict(type="rect", xref="paper", yref="paper",
                       x0=PX(x0), x1=PX(x1), y0=PY(y1), y1=PY(y0),
                       fillcolor=fill, layer="above",
                       line=dict(color=line_color or fill, width=line_width)))


def text(px, py, s, size=16, color="#262626", anchor="left", family=FONT, angle=0):
    annotations.append(dict(xref="paper", yref="paper", x=PX(px), y=PY(py), text=s,
                            showarrow=False, xanchor=anchor, yanchor="middle",
                            align=anchor if anchor != "center" else "center",
                            textangle=angle,
                            font=dict(family=family, size=size, color=color)))


# single bed ops banner
rect(651, 66, 1170, 98, "#BFBFBF", "#1F3864", 3)
text(910, 84, "SINGLE BED OPS", size=15.5, color="#262626", anchor="center")

# bed serial boxes
rect(261, 77, 348, 157, "#F2F2F2", "#262626", 1.5, shadow=True)
text(304.5, 118, "Bed SN<br>00016,<br>00017", size=16.5, color="#4F6228", anchor="center")
rect(675, 111, 773, 206, "#F2F2F2", "#262626", 1.5, shadow=True)
text(724, 153, "EFA,<br>Bed SN<br>0021", size=16.5, color="#4F6228", anchor="center")
rect(1068, 112, 1166, 190, "#F2F2F2", "#262626", 1.5, shadow=True)
text(1117, 152, "EFA,<br>Bed SN<br>011", size=16.5, color="#4F6228", anchor="center")
rect(826, 106, 1058, 203, "#FFC000", "#002060", 4)
text(942, 155, "MF Bed<br>SN007", size=36, color="#000000", anchor="center",
     family="Liberation Sans")

# breakthrough notes
note_fill = "rgba(240,239,233,0.82)"
notes = [
    (147, 492, 285, 563, 159, 532, "<b><u>First</u></b> Ionic<br>Breakthrough<br>at ~ 6,400 lb"),
    (288, 364, 427, 435, 300, 404, "<b><u>Second</u></b> Ionic<br>Breakthrough<br>at ~ 14,600 lb"),
    (362, 203, 500, 273, 374, 244, "<b><u>Third</u></b> Ionic<br>Breakthrough<br>at ~ 25,000 lb"),
    (673, 498, 798, 592, 685, 538, "<b><u>First</u></b> Ionic<br>Breakthrough<br>at ~9,000 lb"),
    (839, 490, 983, 573, 852, 531, "<b><u>First</u></b> Ionic<br>Breakthrough<br>at ~9,000 lb"),
    (902, 345, 1047, 430, 915, 385, "<b><u>Second</u></b> Ionic<br>Breakthrough<br>at ~16,000 lb"),
    (1065, 490, 1200, 573, 1078, 530, "<b><u>First</u></b> Ionic<br>Breakthrough<br>at ~7,000 lb"),
]
for x0, y0, x1, y1, tx0, ty0, s in notes:
    rect(x0, y0, x1, y1, note_fill)
    text(tx0, ty0, s, size=17)

# highlight ellipses
for x0, y0, x1, y1 in [(903, 576, 1008, 614), (950, 442, 1057, 505)]:
    shapes.append(dict(type="circle", xref="paper", yref="paper",
                       x0=PX(x0), x1=PX(x1), y0=PY(y1), y1=PY(y0),
                       fillcolor="rgba(64,120,178,0.78)", layer="above",
                       line=dict(color="#1F3864", width=2)))

# red arrow
annotations.append(dict(xref="paper", yref="paper", x=PX(1078), y=PY(387), ax=-16, ay=78,
                        axref="pixel", ayref="pixel", text="", showarrow=True,
                        arrowhead=2, arrowsize=1.1, arrowwidth=4, arrowcolor="#C8102E"))

# outer frame
shapes.append(dict(type="line", xref="paper", yref="paper", x0=PX(0), x1=PX(W),
                   y0=PY(2.5), y1=PY(2.5), line=dict(color="#1A1A1A", width=3), layer="above"))
shapes.append(dict(type="line", xref="paper", yref="paper", x0=PX(8.5), x1=PX(8.5),
                   y0=PY(4), y1=PY(H), line=dict(color="#A6A6A6", width=1.5), layer="above"))
shapes.append(dict(type="rect", xref="paper", yref="paper", x0=PX(0), x1=PX(5),
                   y0=PY(12), y1=PY(0), fillcolor="#000000", line=dict(width=0), layer="above"))

# titles
text(676, 32, "<b>MF Bed Conductivity, TOC, and Water Produced</b>", size=22,
     color="#1A1A1A", anchor="center")
text(690, 740, "<b>Date (MM/YY)</b>", size=19, color="#1A1A1A", anchor="center")
text(40, 381, "<b>Conductivity: µmho/cm  (Process Cycle Average)</b>", size=21.5,
     color="#1A1A1A", anchor="center", angle=-90)
text(1268, 481, "<b>Water Produced: lbm (Since MF Bed Install)</b>", size=21,
     color="#1A1A1A", anchor="center", angle=-90)
text(1300, 474, "<b>TOC: µg/L</b>", size=21, color="#1A1A1A", anchor="center", angle=-90)

tick_font = dict(family=FONT, size=17, color="#262626")
legend_font = dict(family=FONT, size=18.5, color="#262626")


def legend_at(px):
    return dict(orientation="v", x=PX(px), xanchor="left", y=PY(750), yanchor="top",
                font=legend_font, bgcolor="rgba(0,0,0,0)", tracegroupgap=0,
                itemwidth=30)


fig.update_layout(
    width=W, height=H,
    margin=dict(l=L, r=R, t=T, b=B, pad=0, autoexpand=False),
    paper_bgcolor="white", plot_bgcolor="white",
    font=dict(family=FONT, size=16, color="#262626"),
    showlegend=True,
    legend=legend_at(116), legend2=legend_at(475), legend3=legend_at(835),
    xaxis=dict(type="date", range=x_range, tickvals=x_tick_dates, ticktext=x_tick_labels,
               showgrid=True, gridcolor="#A0A0A0", gridwidth=1, zeroline=False,
               showline=True, linecolor="#8C8C8C", linewidth=1,
               ticks="outside", ticklen=5, tickcolor="#8C8C8C",
               tickfont=tick_font, ticklabelstandoff=8, automargin=False),
    yaxis=dict(range=left_range, tickvals=left_ticks, showgrid=True, gridcolor="#9E9E9E",
               gridwidth=1, zeroline=False, showline=True, linecolor="#8C8C8C", linewidth=1,
               ticks="outside", ticklen=5, tickcolor="#8C8C8C", tickfont=tick_font,
               ticklabelstandoff=10, automargin=False,
               minor=dict(dtick=4, tick0=-10, showgrid=True, gridcolor="#D4D4D4",
                          ticks="outside", ticklen=3, tickcolor="#8C8C8C")),
    yaxis2=dict(range=right_range, tickvals=right_ticks, tickformat="d", overlaying="y",
                side="right", showgrid=False, zeroline=False, showline=True,
                linecolor="#8C8C8C", linewidth=1, ticks="outside", ticklen=5,
                tickcolor="#8C8C8C", tickfont=tick_font, ticklabelstandoff=8,
                automargin=False),
    shapes=shapes, annotations=annotations,
)

fig.write_html("out.html", config={"displayModeBar": False},
               post_script="document.body.style.margin='0px';")
